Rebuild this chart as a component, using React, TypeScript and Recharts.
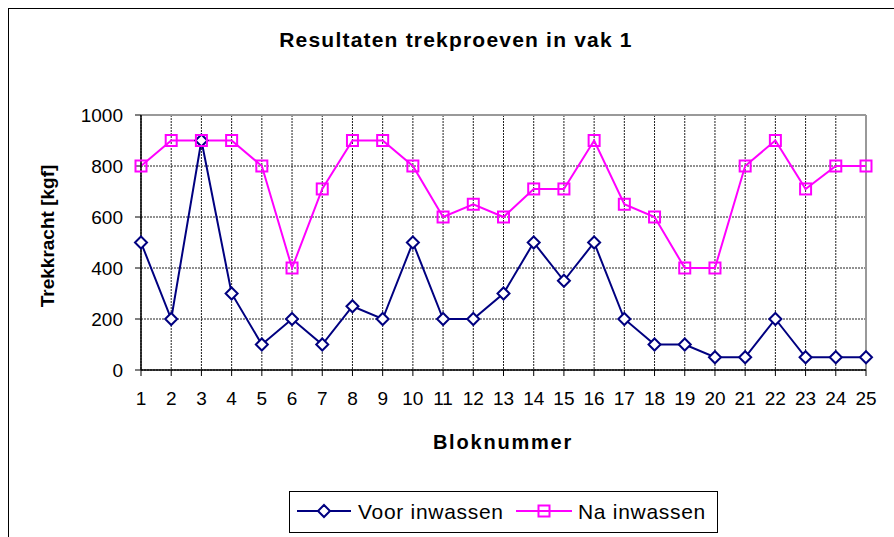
import { LineChart, Line, XAxis, YAxis, CartesianGrid, ReferenceLine } from 'recharts';

const blokken = [1, 2, 3, 4, 5, 6, 7, 8, 9, 10, 11, 12, 13, 14, 15, 16, 17, 18, 19, 20, 21, 22, 23, 24, 25];
const voorInwassen = [500, 200, 900, 300, 100, 200, 100, 250, 200, 500, 200, 200, 300, 500, 350, 500, 200, 100, 100, 50, 50, 200, 50, 50, 50];
const naInwassen = [800, 900, 900, 900, 800, 400, 710, 900, 900, 800, 600, 650, 600, 710, 710, 900, 650, 600, 400, 400, 800, 900, 710, 800, 800];
const yTicks = [0, 200, 400, 600, 800, 1000];

const data = blokken.map((blok, i) => ({ blok, voor: voorInwassen[i], na: naInwassen[i] }));

const NAVY = '#000080';
const MAGENTA = '#FF00FF';
const FONT = '"Liberation Sans", Arial, sans-serif';

const Diamond = (props: any) => {
  const { cx, cy, index } = props;
  if (cx == null || cy == null) return null;
  return (
    <path
      key={`d-${index}`}
      d={`M${cx},${cy - 6}L${cx + 6},${cy}L${cx},${cy + 6}L${cx - 6},${cy}Z`}
      fill="#fff"
      stroke={NAVY}
      strokeWidth={2}
    />
  );
};

const Square = (props: any) => {
  const { cx, cy, index } = props;
  if (cx == null || cy == null) return null;
  return (
    <rect key={`s-${index}`} x={cx - 5.5} y={cy - 5.5} width={11} height={11} fill="none" stroke={MAGENTA} strokeWidth={2} />
  );
};

export default function App() {
  return (
    <div style={{ position: 'absolute', left: 0, top: 0, width: 894, height: 537, overflow: 'hidden', background: '#fff', fontFamily: FONT }}>
      {/* chart area border */}
      <div style={{ position: 'absolute', left: 8, top: 8, width: 900, height: 560, borderLeft: '1px solid #000', borderTop: '1px solid #000' }} />
      <div style={{ position: 'absolute', left: 0, top: 0 }}>
        <LineChart width={894} height={537} data={data} margin={{ top: 115, right: 28, bottom: 137, left: 81 }}>
          <CartesianGrid stroke="#222" strokeDasharray="2 1" />
          <XAxis
            dataKey="blok"
            axisLine={{ stroke: '#000', strokeWidth: 1.5 }}
            tickLine={{ stroke: '#000' }}
            tickSize={6}
            tickMargin={16}
            interval={0}
            tick={{ fill: '#000', fontSize: 19, fontFamily: FONT }}
          />
          <YAxis
            width={60}
            domain={[0, 1000]}
            ticks={yTicks}
            axisLine={{ stroke: '#000', strokeWidth: 1.5 }}
            tickLine={{ stroke: '#000' }}
            tickSize={6}
            tickMargin={12}
            tick={{ fill: '#000', fontSize: 19, fontFamily: FONT }}
          />
          <ReferenceLine y={1000} stroke="#999" strokeWidth={2} />
          <ReferenceLine x={25} stroke="#999" strokeWidth={2} />
          <Line dataKey="voor" stroke={NAVY} strokeWidth={2} dot={Diamond} activeDot={false} isAnimationActive={false} />
          <Line dataKey="na" stroke={MAGENTA} strokeWidth={2} dot={Square} activeDot={false} isAnimationActive={false} />
        </LineChart>
      </div>
      <svg width={894} height={537} style={{ position: 'absolute', left: 0, top: 0, pointerEvents: 'none' }}>
        <text x={456} y={47} textAnchor="middle" fontSize={21} fontWeight="bold" fontFamily={FONT} letterSpacing={1.2}>
          Resultaten trekproeven in vak 1
        </text>
        <text x={503} y={449} textAnchor="middle" fontSize={20} fontWeight="bold" fontFamily={FONT} letterSpacing={1.8}>
          Bloknummer
        </text>
        <text transform="translate(54,236) rotate(-90)" textAnchor="middle" fontSize={19} fontWeight="bold" fontFamily={FONT}>
          Trekkracht [kgf]
        </text>
        <rect x={289.5} y={491.5} width={428} height={41} fill="#fff" stroke="#000" strokeWidth={1} />
        <line x1={297} y1={511} x2={351} y2={511} stroke={NAVY} strokeWidth={2} />
        <path d="M324,505L330,511L324,517L318,511Z" fill="#fff" stroke={NAVY} strokeWidth={2} />
        <text x={358} y={519} fontSize={21} fontFamily={FONT} letterSpacing={0.7}>Voor inwassen</text>
        <line x1={516} y1={511} x2={572} y2={511} stroke={MAGENTA} strokeWidth={2} />
        <rect x={538.5} y={505.5} width={11} height={11} fill="none" stroke={MAGENTA} strokeWidth={2} />
        <text x={578} y={519} fontSize={21} fontFamily={FONT} letterSpacing={0.7}>Na inwassen</text>
      </svg>
    </div>
  );
}
